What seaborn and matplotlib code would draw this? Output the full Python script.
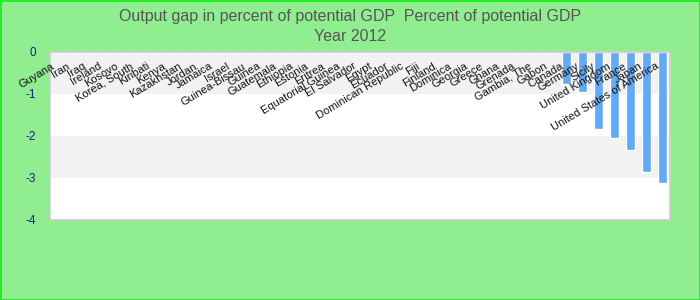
import matplotlib
matplotlib.use("Agg")
import matplotlib.pyplot as plt
import matplotlib.transforms as mtransforms
import seaborn as sns
import pandas as pd

countries = ["Guyana", "Iran", "Iraq", "Ireland", "Kosovo", "Korea, South", "Kiribati",
             "Kenya", "Kazakhstan", "Jordan", "Jamaica", "Israel", "Guinea-Bissau", "Guinea",
             "Guatemala", "Ethiopia", "Estonia", "Eritrea", "Equatorial Guinea", "El Salvador",
             "Egypt", "Ecuador", "Dominican Republic", "Fiji", "Finland", "Dominica", "Georgia",
             "Greece", "Ghana", "Grenada", "Gambia, The", "Gabon", "Canada", "Germany", "Sicily",
             "United Kingdom", "France", "Japan", "United States of America"]
gap = [0, 0, 0, 0, 0, 0, 0, 0, 0, 0, 0, 0, 0, 0, 0, 0, 0, 0, 0, 0, 0, 0, 0, 0, 0, 0, 0,
       0, 0, 0, 0, 0, -0.76, -0.95, -1.84, -2.05, -2.33, -2.85, -3.13]
yticks = [0, -1, -2, -3, -4]
title_lines = ["Output gap in percent of potential GDP  Percent of potential GDP", "Year 2012"]

sns.set_theme(style="white")
plt.rcParams["font.family"] = ["Liberation Sans", "DejaVu Sans"]
plt.rcParams["axes.unicode_minus"] = False

df = pd.DataFrame({"country": countries, "gap": gap})

fig = plt.figure(figsize=(7, 3), dpi=100, facecolor="#90ee90")
fig.patch.set_edgecolor("#22ee22")
fig.patch.set_linewidth(2)
ax = fig.add_axes([50 / 700, 80 / 300, 620 / 700, 168 / 300])
ax.set_facecolor("white")

for i in range(len(yticks) - 1):
    if i % 2 == 0:
        ax.axhspan(yticks[i + 1], yticks[i], color="#f2f2f2", zorder=0, lw=0)

sns.barplot(data=df, x="country", y="gap", order=countries, color="#63a9f4",
            width=0.57, saturation=1, ax=ax, zorder=2)

ax.set_ylim(-4, 0)
ax.set_xlim(-0.5, len(countries) - 0.5)
ax.set_yticks(yticks)
ax.set_yticklabels([str(t) for t in yticks], color="#1a1a8c", fontsize=8.5)
ax.tick_params(axis="y", length=0, pad=10)
ax.set_xticks([])
ax.set_xlabel("")
ax.set_ylabel("")
for s in ax.spines.values():
    s.set_color("#cccccc")
    s.set_linewidth(1.2)

base = mtransforms.blended_transform_factory(ax.transData, ax.transAxes)
off = mtransforms.ScaledTranslation(-7 / 100, -9 / 100, fig.dpi_scale_trans)
for i, name in enumerate(countries):
    ax.text(i, 1, name, transform=base + off, rotation=31, ha="right", va="top",
            rotation_mode="anchor", fontsize=8, color="#111111", zorder=3)

fig.text(0.5, 0.945, title_lines[0], ha="center", va="center", fontsize=11.5, color="#555555")
fig.text(0.5, 0.878, title_lines[1], ha="center", va="center", fontsize=11.5, color="#555555")

fig.savefig("out.png", dpi=100, facecolor=fig.get_facecolor(), edgecolor=fig.patch.get_edgecolor())
